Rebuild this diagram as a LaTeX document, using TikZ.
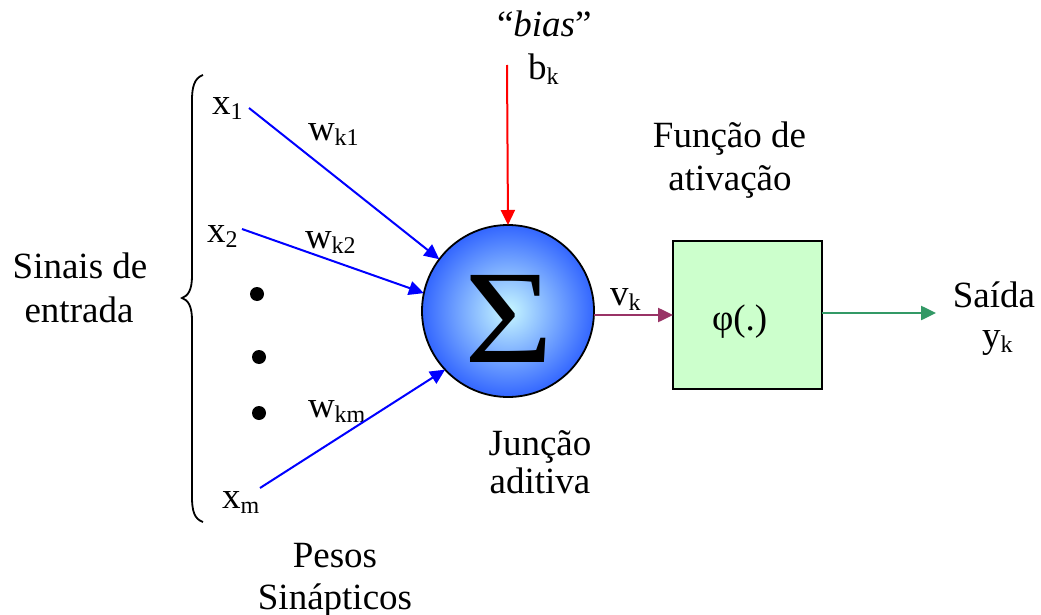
\documentclass[tikz,border=0pt]{standalone}
\usepackage{fontspec}
\setmainfont{Liberation Serif}
\usetikzlibrary{arrows.meta}
\definecolor{purp}{HTML}{993366}
\definecolor{grn}{HTML}{339966}
\definecolor{boxg}{HTML}{CCFFCC}
\definecolor{sumin}{HTML}{C8F8FF}
\definecolor{sumout}{HTML}{3366FF}
\newcommand\sbx[1]{\raisebox{-5pt}{\fontsize{24}{26}\selectfont #1}}
\begin{document}
\begin{tikzpicture}[x=1pt,y=-1pt,
  every node/.style={inner sep=0pt, outer sep=0pt, font=\fontsize{37}{44}\selectfont},
  lbl/.style={anchor=base west},
  ctr/.style={anchor=base},
  tipx/.style={-{Triangle[length=15pt,width=14pt]}},
  inarrow/.style={tipx, draw=blue, line width=2pt},
  dotn/.style={circle, fill=black, minimum size=14pt}]
\useasboundingbox (0,0) rectangle (1041,615);

% summing junction
\node[circle, minimum size=172pt, draw=black, line width=1.8pt,
      inner color=sumin, outer color=sumout] (sum) at (508,311) {};
\node[ctr] (sigma) at (509.5,362) {\scalebox{1.15}[1.0]{\fontsize{133}{135}\selectfont Σ}};

% activation box
\node[draw=black, line width=2pt, fill=boxg, minimum width=149pt, minimum height=148pt] (phi) at (747.5,315) {};
\node[lbl] (phit) at (712,330) {φ(.)};

% input labels
\node[lbl] (x1) at (212,115) {x\sbx{1}};
\node[lbl] (x2) at (207,242) {x\sbx{2}};
\node[lbl] (xm) at (222,508) {x\sbx{m}};
\node[lbl] (w1) at (308,141) {w\sbx{k1}};
\node[lbl] (w2) at (305,248) {w\sbx{k2}};
\node[lbl] (wm) at (308,417) {w\sbx{km}};

\node[dotn] (d1) at (257,294) {};
\node[dotn] (d2) at (259,357) {};
\node[dotn] (d3) at (259,413) {};

\coordinate (s1) at (249,108);
\coordinate (s2) at (242,229);
\coordinate (sm) at (260,488);
\draw[inarrow] (s1) -- (sum.143);
\draw[inarrow] (s2) -- (sum.168);
\draw[inarrow] (sm) -- (sum.223);

% brace
\draw[line width=1.8pt] (203,75) .. controls (194,78) and (192,88) .. (192,100)
  -- (192,276) .. controls (192,290) and (188,296) .. (182,298)
  .. controls (188,300) and (192,306) .. (192,320)
  -- (192,497) .. controls (192,510) and (194,519) .. (203,522);

\node[ctr] (sin1) at (80,278) {Sinais de};
\node[ctr] (sin2) at (79,322) {entrada};

% bias
\node[lbl] (bias) at (497,37) {“\textit{bias}”};
\node[lbl] (bk) at (528,80) {b\sbx{k}};
\coordinate (b0) at (507,65);
\draw[tipx, draw=red, line width=2pt] (b0) -- (sum.north);

% vk
\node[lbl] (vk) at (610,305) {v\sbx{k}};
\draw[tipx, draw=purp, line width=2.5pt] (phi.west -| sum.east) -- (phi.west);

% activation label
\node[ctr] (fa1) at (729.5,147) {Função de};
\node[ctr] (fa2) at (730,190) {ativação};

% output
\coordinate (out) at (936,313);
\draw[tipx, draw=grn, line width=2.5pt] (phi.east |- out) -- (out);
\node[ctr] (sa) at (994,307) {Saída};
\node[lbl] (yk) at (982,347) {y\sbx{k}};

% bottom labels
\node[ctr] (ju1) at (540,455) {Junção};
\node[ctr] (ju2) at (540,493) {aditiva};
\node[ctr] (ps1) at (335,567) {Pesos};
\node[ctr] (ps2) at (335,609) {Sinápticos};
\end{tikzpicture}
\end{document}
